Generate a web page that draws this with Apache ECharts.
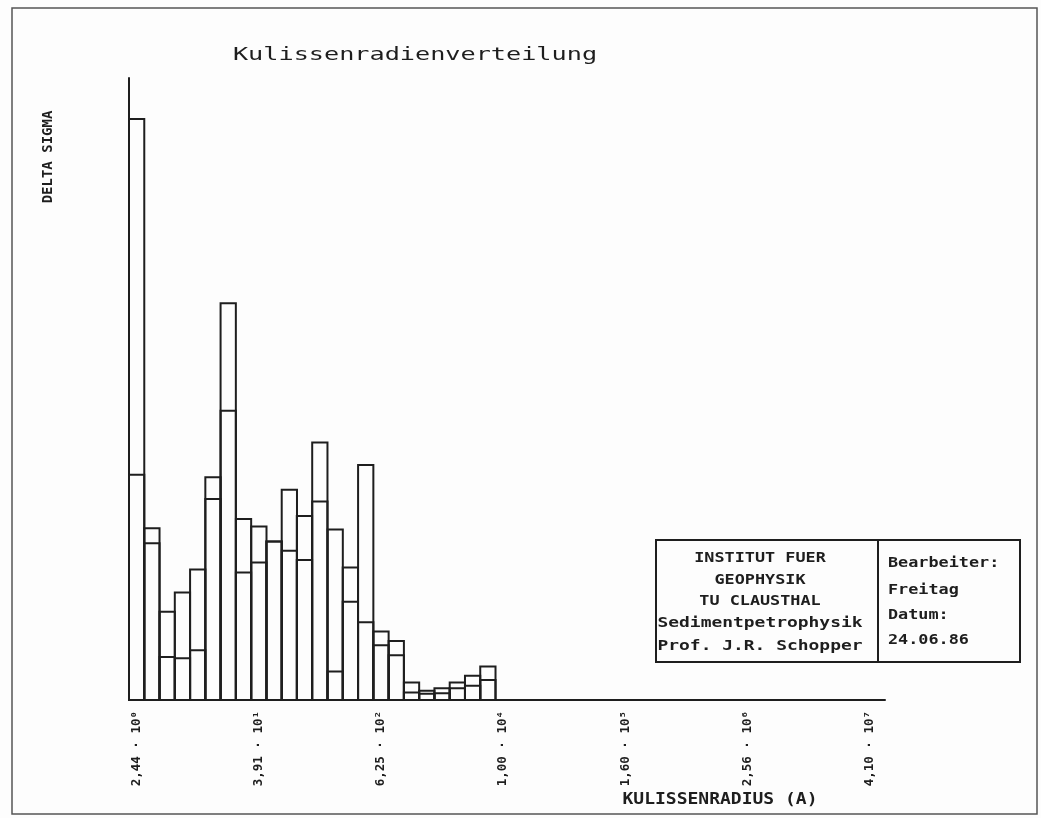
<!DOCTYPE html>
<html>
<head>
<meta charset="utf-8">
<script src="https://cdn.jsdelivr.net/npm/echarts@6/dist/echarts.min.js"></script>
<style>
html,body{margin:0;padding:0;background:#fdfdfd;}
#chart{width:1041px;height:818px;}
</style>
</head>
<body>
<div id="chart"></div>
<script>
// Bin centres (Kulissenradius, A) – each bin is a factor sqrt(2) wide
const binCenters = [2.44, 3.45, 4.88, 6.90, 9.76, 13.8, 19.5, 27.6, 39.1, 55.2, 78.1, 110,
                    156, 221, 312, 442, 625, 884, 1250, 1768, 2500, 3536, 5000, 7071];
// Delta sigma (relative units): outer (upper) outline
const deltaSigmaUpper = [93.4, 27.6, 14.2, 17.3, 21.0, 35.8, 63.8, 29.1, 27.9, 25.5, 33.8, 29.6,
                         41.4, 27.4, 21.3, 37.8, 11.0, 9.5, 2.8, 1.5, 1.9, 2.8, 3.9, 5.4];
// inner (lower) outline
const deltaSigmaLower = [36.2, 25.2, 6.9, 6.7, 8.0, 32.3, 46.5, 20.5, 22.1, 25.5, 24.0, 22.5,
                         31.9, 4.6, 15.8, 12.5, 8.8, 7.2, 1.2, 1.0, 1.1, 1.9, 2.3, 3.2];
// Tick values and labels of the x axis
const tickValues = [2.44, 39.06, 625, 1.0e4, 1.6e5, 2.56e6, 4.10e7];
const tickLabels = ['2,44 · 10⁰', '3,91 · 10¹', '6,25 · 10²', '1,00 · 10⁴', '1,60 · 10⁵', '2,56 · 10⁶', '4,10 · 10⁷'];

const chartTitle = 'Kulissenradienverteilung';
const yName = 'DELTA SIGMA';
const xName = 'KULISSENRADIUS (A)';
const boxLeft = ['INSTITUT FUER', 'GEOPHYSIK', 'TU CLAUSTHAL', 'Sedimentpetrophysik', 'Prof. J.R. Schopper'];
const boxRight = ['Bearbeiter:', 'Freitag', 'Datum:', '24.06.86'];

const INK = '#1e1e1e';
const binHalf = Math.log10(Math.SQRT2) / 2;
const logTicks = tickValues.map(v => Math.log10(v));
const xMin = Math.log10(binCenters[0]) - binHalf;

function rectSeries(values, name) {
  return {
    type: 'custom', name: name,
    data: binCenters.map((c, i) => [Math.log10(c), values[i]]),
    renderItem: function (params, api) {
      const x = api.value(0), v = api.value(1);
      const p0 = api.coord([x - binHalf, v]);
      const p1 = api.coord([x + binHalf, 0]);
      return {
        type: 'rect',
        shape: { x: p0[0], y: p0[1], width: p1[0] - p0[0], height: p1[1] - p0[1] },
        style: { fill: 'none', stroke: INK, lineWidth: 2 }
      };
    }
  };
}

const mono = "'DejaVu Sans Mono', 'Liberation Mono', monospace";
const graphics = [
  { type: 'rect', shape: { x: 12, y: 8, width: 1025, height: 806 }, style: { fill: 'none', stroke: '#555', lineWidth: 1.5 } },
  { type: 'text', x: 415, y: 55, scaleX: 1.4, style: { text: chartTitle, font: "normal 18px " + mono, fill: INK, align: 'center', verticalAlign: 'middle' } },
  { type: 'text', x: 48, y: 157, rotation: Math.PI / 2, scaleX: 1.0, style: { text: yName, font: "bold 14px " + mono, fill: INK, align: 'center', verticalAlign: 'middle' } },
  { type: 'text', x: 720, y: 800, scaleX: 1.2, style: { text: xName, font: "bold 15px " + mono, fill: INK, align: 'center', verticalAlign: 'middle' } },
  { type: 'rect', shape: { x: 656, y: 540, width: 222, height: 122 }, style: { fill: 'none', stroke: INK, lineWidth: 2 } },
  { type: 'rect', shape: { x: 878, y: 540, width: 142, height: 122 }, style: { fill: 'none', stroke: INK, lineWidth: 2 } }
];
const leftYs = [558, 580, 601, 623, 646];
boxLeft.forEach((t, i) => graphics.push({ type: 'text', x: 760, y: leftYs[i], scaleX: i < 3 ? 1.2 : 1.28,
  style: { text: t, font: "bold 14px " + mono, fill: INK, align: 'center', verticalAlign: 'middle' } }));
const rightYs = [563, 590, 615, 640];
boxRight.forEach((t, i) => graphics.push({ type: 'text', x: 888, y: rightYs[i], scaleX: 1.2,
  style: { text: t, font: "bold 14px " + mono, fill: INK, align: 'left', verticalAlign: 'middle' } }));

const chart = echarts.init(document.getElementById('chart'));
chart.setOption({
  backgroundColor: '#fdfdfd',
  animation: false,
  grid: { left: 129, right: 156, top: 78, bottom: 118 },
  xAxis: {
    type: 'value', min: xMin, max: xMin + 7.4516,
    axisLine: { show: true, lineStyle: { color: INK, width: 2 } },
    axisTick: { show: false },
    splitLine: { show: false },
    axisLabel: {
      customValues: logTicks,
      rotate: 90, margin: 11,
      fontFamily: mono, fontWeight: 'bold', fontSize: 12.5, color: INK,
      formatter: function (v) {
        let best = 0;
        logTicks.forEach((t, i) => { if (Math.abs(t - v) < Math.abs(logTicks[best] - v)) best = i; });
        return tickLabels[best];
      }
    }
  },
  yAxis: {
    type: 'value', min: 0, max: 100,
    axisLine: { show: true, lineStyle: { color: INK, width: 2 } },
    axisTick: { show: false }, axisLabel: { show: false }, splitLine: { show: false }
  },
  graphic: graphics,
  series: [rectSeries(deltaSigmaUpper, 'upper'), rectSeries(deltaSigmaLower, 'lower')]
});
</script>
</body>
</html>
